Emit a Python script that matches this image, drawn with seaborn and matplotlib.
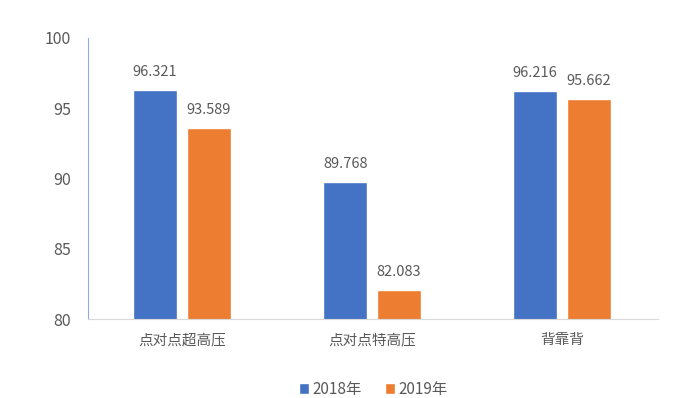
import pandas as pd
import matplotlib.pyplot as plt
import seaborn as sns

categories = ['点对点超高压', '点对点特高压', '背靠背']
years = ['2018年', '2019年']
values_2018 = [96.321, 89.768, 96.216]
values_2019 = [93.589, 82.083, 95.662]

data = pd.DataFrame({
    'category': categories * 2,
    'year': [years[0]] * 3 + [years[1]] * 3,
    'value': values_2018 + values_2019,
})

sns.set_style('white')
plt.rcParams['font.family'] = ['Noto Sans CJK SC', 'DejaVu Sans']
text_color = '#595959'

fig = plt.figure(figsize=(6.86, 3.98), dpi=100)
ax = fig.add_axes([88 / 686, 1 - 319 / 398, (658 - 88) / 686, (319 - 38) / 398])

sns.barplot(data=data, x='category', y='value', hue='year',
            palette=['#4472C4', '#ED7D31'], saturation=1, width=0.566, gap=0.185,
            ax=ax, legend=True)

ax.set_xlim(-0.495, 2.505)
ax.set_ylim(80, 100)
ax.set_yticks([80, 85, 90, 95, 100])
ax.set_xlabel('')
ax.set_ylabel('')

for container in ax.containers:
    ax.bar_label(container, fmt='%.3f', padding=8, fontsize=10.5, color=text_color)

for side in ['top', 'right']:
    ax.spines[side].set_visible(False)
ax.spines['left'].set_color('#8faadc')
ax.spines['bottom'].set_color('#d9d9d9')
ax.tick_params(axis='y', direction='in', length=3, color='#8faadc',
               labelsize=11.5, labelcolor=text_color, pad=12)
ax.tick_params(axis='x', length=0, labelsize=10.5, labelcolor=text_color, pad=10)

ax.legend(loc='upper center', bbox_to_anchor=(0.5, -0.17), ncol=2, frameon=False,
          fontsize=11, handlelength=0.7, handleheight=0.7, handletextpad=0.2,
          columnspacing=1.5, labelcolor=text_color)

fig.savefig('out.png', dpi=100)
